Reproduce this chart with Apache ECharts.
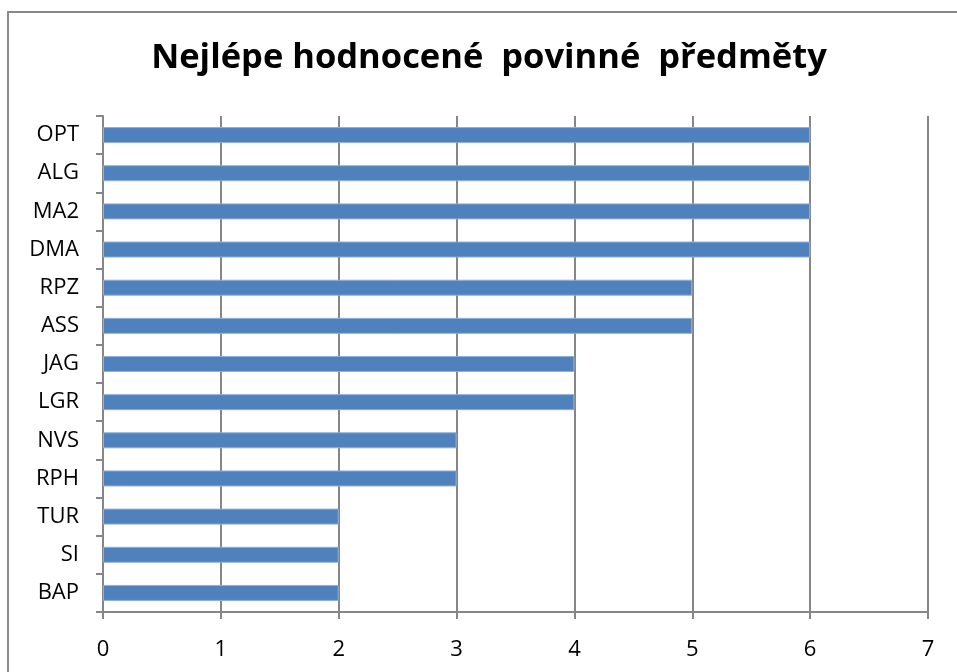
<!DOCTYPE html>
<html>
<head>
<meta charset="utf-8">
<script src="https://cdn.jsdelivr.net/npm/echarts@6/dist/echarts.min.js"></script>
<style>
  html, body { margin: 0; padding: 0; background: #fff; }
  #chart { width: 957px; height: 672px; }
</style>
</head>
<body>
<div id="chart"></div>
<script>
// kategorie odspodu nahoru
var predmety = ['BAP', 'SI', 'TUR', 'RPH', 'NVS', 'LGR', 'JAG', 'ASS', 'RPZ', 'DMA', 'MA2', 'ALG', 'OPT'];
var hodnoty = [2, 2, 2, 3, 3, 4, 4, 5, 5, 6, 6, 6, 6];
var osaX = [0, 1, 2, 3, 4, 5, 6, 7];

var myChart = echarts.init(document.getElementById('chart'));
var gray = '#868686';
var font = '"Open Sans", sans-serif';
var option = {
  animation: false,
  title: {
    text: 'Nejlépe hodnocené  povinné  předměty',
    left: 484,
    top: 36,
    textAlign: 'center',
    textStyle: {
      fontFamily: font,
      fontWeight: 'bold',
      fontSize: 34.5,
      color: '#000'
    }
  },
  graphic: [{
    type: 'rect',
    shape: { x: 8, y: 12, width: 1000, height: 700 },
    style: { fill: 'none', stroke: '#898989', lineWidth: 2 },
    silent: true
  }],
  grid: { left: 103, right: 29, top: 116, bottom: 60 },
  xAxis: {
    type: 'value',
    min: osaX[0],
    max: osaX[osaX.length - 1],
    interval: 1,
    axisLine: { show: true, lineStyle: { color: gray, width: 2 } },
    axisTick: { show: true, length: 7, lineStyle: { color: gray, width: 2 } },
    splitLine: { show: true, lineStyle: { color: gray, width: 2 } },
    axisLabel: {
      margin: 27,
      fontSize: 22,
      fontFamily: font,
      color: '#000',
      formatter: function (v) { return osaX.indexOf(v) >= 0 ? String(v) : ''; }
    }
  },
  yAxis: {
    type: 'category',
    data: predmety,
    axisLine: { show: true, lineStyle: { color: gray, width: 2 } },
    axisTick: { show: true, length: 7, lineStyle: { color: gray, width: 2 } },
    axisLabel: {
      margin: 24,
      fontSize: 22,
      fontFamily: font,
      color: '#000'
    }
  },
  series: [{
    type: 'bar',
    data: hodnoty,
    barWidth: 16,
    itemStyle: { color: '#4F81BD', borderColor: '#8FAFD8', borderWidth: 1 }
  }]
};
myChart.setOption(option);
</script>
</body>
</html>
